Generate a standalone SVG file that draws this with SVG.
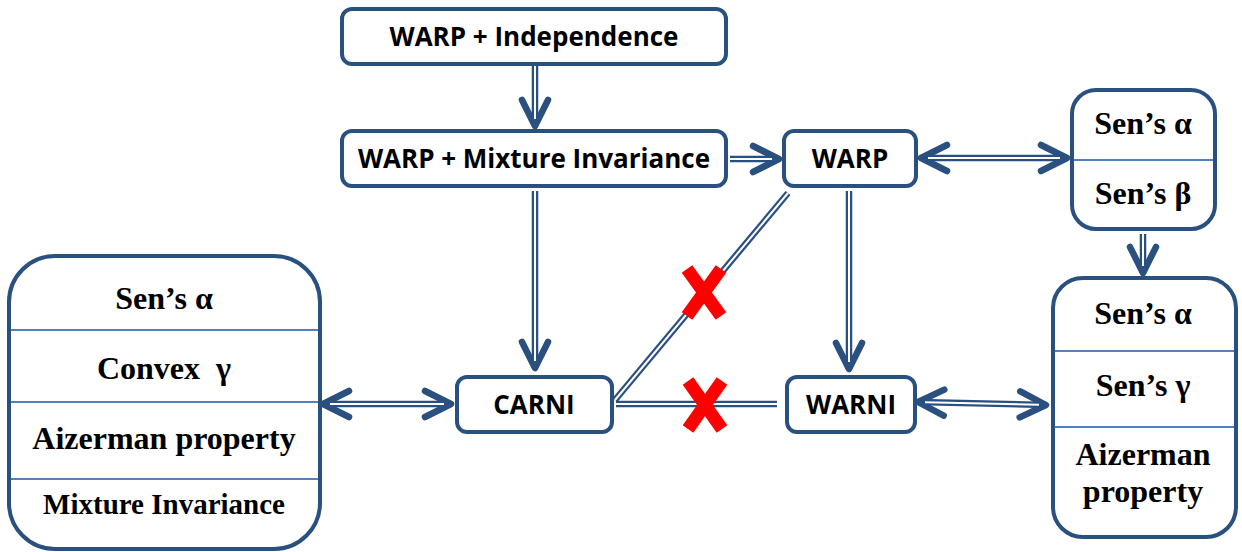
<svg xmlns="http://www.w3.org/2000/svg" width="1242" height="552" viewBox="0 0 1242 552">
<defs>
<style>
.box{fill:#fff;stroke:#2A5080;stroke-width:4}
.div{stroke:#4F81BD;stroke-width:1.8}
.sans{font-family:"Open Sans","Liberation Sans",sans-serif;font-weight:bold;font-size:26px;fill:#000;text-anchor:middle}
.serif{font-family:"Liberation Serif","DejaVu Serif",serif;font-weight:bold;font-size:32px;fill:#000;text-anchor:middle}
.dk{fill:none;stroke:#2A5080;stroke-width:6.5}
.wt{fill:none;stroke:#fff;stroke-width:2}
.x{stroke:#FF0000;stroke-width:13}
</style>
<marker id="ah" markerUnits="userSpaceOnUse" markerWidth="60" markerHeight="60" viewBox="-30 -30 60 60" refX="0" refY="0" orient="auto-start-reverse" overflow="visible">
<path d="M-26,-13 L0,0 L-26,13" fill="none" stroke="#2A5080" stroke-width="6.5" stroke-linecap="round" stroke-linejoin="round"/>
</marker>
</defs>
<rect width="1242" height="552" fill="#fff"/>

<g id="connectors">
<path class="dk" d="M535,66 V126" marker-end="url(#ah)"/>
<path class="wt" d="M535,66 V119"/>
<path class="dk" d="M730,159 H779" marker-end="url(#ah)"/>
<path class="wt" d="M730,159 H772"/>
<path class="dk" d="M921,158 H1067" marker-start="url(#ah)" marker-end="url(#ah)"/>
<path class="wt" d="M928,158 H1060"/>
<path class="dk" d="M1143,234 V273" marker-end="url(#ah)"/>
<path class="wt" d="M1143,234 V266"/>
<path class="dk" d="M535,191 V368" marker-end="url(#ah)"/>
<path class="wt" d="M535,191 V361"/>
<path class="dk" d="M849,191 V369" marker-end="url(#ah)"/>
<path class="wt" d="M849,191 V362"/>
<path class="dk" d="M323,404 H451" marker-start="url(#ah)" marker-end="url(#ah)"/>
<path class="wt" d="M330,404 H444"/>
<path class="dk" d="M918,402 L1046,405" marker-start="url(#ah)" marker-end="url(#ah)"/>
<path class="wt" d="M925,402.2 L1039,404.8"/>
<path class="dk" d="M615,400 L788,193"/>
<path class="wt" d="M615,400 L788,193"/>
<path class="dk" d="M616,404 H777"/>
<path class="wt" d="M616,404 H777"/>
<g id="cross1">
<line class="x" x1="687" y1="269" x2="721" y2="316"/>
<line class="x" x1="721" y1="269" x2="687" y2="316"/>
</g>
<g id="cross2">
<line class="x" x1="688" y1="381" x2="722" y2="429"/>
<line class="x" x1="722" y1="381" x2="688" y2="429"/>
</g>
</g>

<g id="warp-independence">
<rect class="box" x="342" y="9" width="384" height="55" rx="10"/>
<text class="sans" x="534" y="46">WARP + Independence</text>
</g>
<g id="warp-mixture">
<rect class="box" x="342" y="131" width="384" height="55" rx="10"/>
<text class="sans" x="534" y="168">WARP + Mixture Invariance</text>
</g>
<g id="warp">
<rect class="box" x="784" y="131" width="132" height="55" rx="10"/>
<text class="sans" x="850" y="168">WARP</text>
</g>
<g id="carni">
<rect class="box" x="457" y="377" width="155" height="55" rx="10"/>
<text class="sans" x="534" y="414">CARNI</text>
</g>
<g id="warni">
<rect class="box" x="787" y="377" width="128" height="55" rx="10"/>
<text class="sans" x="851" y="414">WARNI</text>
</g>
<g id="sen-alpha-beta">
<rect class="box" x="1072" y="90" width="143" height="139" rx="24"/>
<line class="div" x1="1074" y1="160" x2="1213" y2="160"/>
<text class="serif" x="1143" y="134">Sen’s α</text>
<text class="serif" x="1143" y="204">Sen’s β</text>
</g>
<g id="right-box">
<rect class="box" x="1053" y="278" width="183" height="259" rx="30"/>
<line class="div" x1="1055" y1="351" x2="1234" y2="351"/>
<line class="div" x1="1055" y1="427" x2="1234" y2="427"/>
<text class="serif" x="1143" y="324">Sen’s α</text>
<text class="serif" x="1143" y="396">Sen’s γ</text>
<text class="serif" x="1143" y="465">Aizerman</text>
<text class="serif" x="1143" y="502">property</text>
</g>
<g id="left-box">
<rect class="box" x="9" y="256" width="311" height="293" rx="46"/>
<line class="div" x1="11" y1="330" x2="318" y2="330"/>
<line class="div" x1="11" y1="402" x2="318" y2="402"/>
<line class="div" x1="11" y1="479" x2="318" y2="479"/>
<text class="serif" x="164" y="309">Sen’s α</text>
<text class="serif" x="164" y="379">Convex&#160; γ</text>
<text class="serif" x="164" y="449">Aizerman property</text>
<text class="serif" x="164" y="514" style="font-size:29px">Mixture Invariance</text>
</g>
</svg>
